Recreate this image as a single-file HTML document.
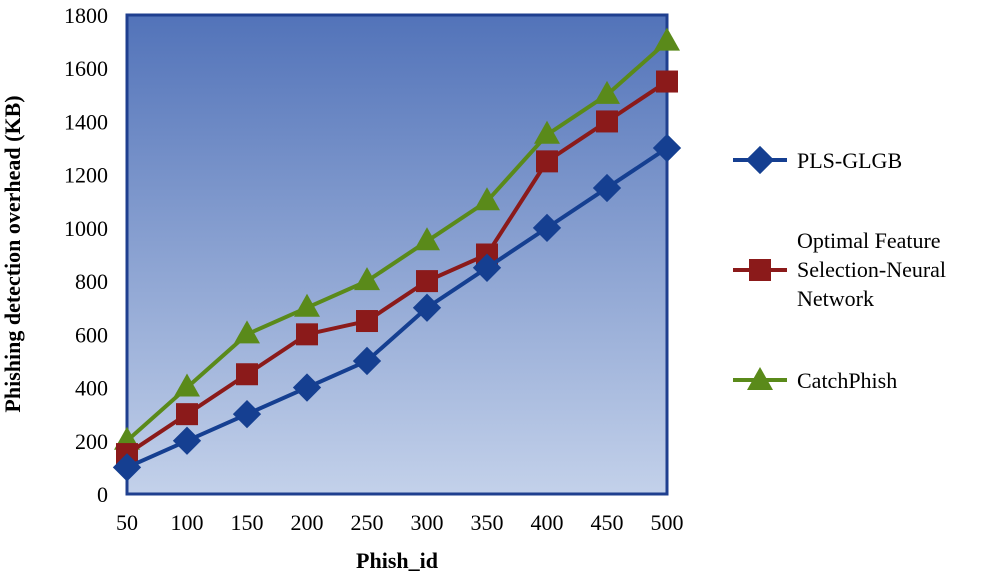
<!DOCTYPE html>
<html><head><meta charset="utf-8"><style>
body{margin:0;background:#fff;}
text{font-family:"Liberation Serif",serif;}
</style></head><body>
<svg id="chart" width="996" height="577" xmlns="http://www.w3.org/2000/svg">
<defs><linearGradient id="bg" x1="0" y1="0" x2="0" y2="1"><stop offset="0" stop-color="#5273b9"/><stop offset="1" stop-color="#c3d1ea"/></linearGradient></defs>
<rect x="127" y="15" width="540" height="479" fill="url(#bg)" stroke="#1f3f8f" stroke-width="3"/>
<g id="yticks"></g><g id="xticks"></g><g id="series"></g>
<text x="20" y="254" font-size="22" font-weight="bold" text-anchor="middle" transform="rotate(-90 20 254)">Phishing detection overhead (KB)</text>
<text x="397" y="568" font-size="22" font-weight="bold" text-anchor="middle">Phish_id</text>
<g>
<line x1="733" y1="160" x2="787" y2="160" stroke="#153f91" stroke-width="4"/>
<rect x="750" y="150" width="20" height="20" fill="#153f91" transform="rotate(45 760 160)"/>
<text x="797" y="168" font-size="22">PLS-GLGB</text>
<line x1="733" y1="270" x2="787" y2="270" stroke="#8b1a1a" stroke-width="4"/>
<rect x="749" y="259" width="22" height="22" fill="#8b1a1a"/>
<text x="797" y="248" font-size="22"><tspan x="797">Optimal Feature</tspan><tspan x="797" dy="29">Selection-Neural</tspan><tspan x="797" dy="29">Network</tspan></text>
<line x1="733" y1="380" x2="787" y2="380" stroke="#5a8a1a" stroke-width="4"/>
<polygon points="760,367 773,390 747,390" fill="#5a8a1a"/>
<text x="797" y="388" font-size="22">CatchPhish</text>
</g>
</svg>
<script>
const categories=[50,100,150,200,250,300,350,400,450,500];
const plsGlgb=[100,200,300,400,500,700,850,1000,1150,1300];
const ofsNn=[150,300,450,600,650,800,900,1250,1400,1550];
const catchPhish=[200,400,600,700,800,950,1100,1350,1500,1700];
const yTicks=[0,200,400,600,800,1000,1200,1400,1600,1800];
const NS="http://www.w3.org/2000/svg";
const X=i=>127+i*(540/(categories.length-1));
const Y=v=>494-v*(479/1800);
const yg=document.getElementById('yticks');
yTicks.forEach(t=>{const e=document.createElementNS(NS,'text');
e.setAttribute('x',108);e.setAttribute('y',Y(t)+8);e.setAttribute('font-size',22);e.setAttribute('text-anchor','end');e.textContent=t;


yg.appendChild(e);});
const xg=document.getElementById('xticks');
categories.forEach((c,i)=>{const e=document.createElementNS(NS,'text');
e.setAttribute('x',X(i));e.setAttribute('y',530);e.setAttribute('font-size',22);e.setAttribute('text-anchor','middle');e.textContent=c;


xg.appendChild(e);});
const sg=document.getElementById('series');
function draw(vals,color,shape,name){
const g=document.createElementNS(NS,'g');


const pl=document.createElementNS(NS,'polyline');
pl.setAttribute('points',vals.map((v,i)=>X(i)+','+Y(v)).join(' '));
pl.setAttribute('fill','none');pl.setAttribute('stroke',color);pl.setAttribute('stroke-width',4);


g.appendChild(pl);
vals.forEach((v,i)=>{const x=X(i),y=Y(v);let m;
if(shape==='d'){m=document.createElementNS(NS,'rect');m.setAttribute('x',x-10);m.setAttribute('y',y-10);m.setAttribute('width',20);m.setAttribute('height',20);m.setAttribute('transform','rotate(45 '+x+' '+y+')');}
else if(shape==='s'){m=document.createElementNS(NS,'rect');m.setAttribute('x',x-11);m.setAttribute('y',y-11);m.setAttribute('width',22);m.setAttribute('height',22);}
else{m=document.createElementNS(NS,'polygon');m.setAttribute('points',x+','+(y-14)+' '+(x+13)+','+(y+9)+' '+(x-13)+','+(y+9));}
m.setAttribute('fill',color);


g.appendChild(m);});
sg.appendChild(g);}
draw(catchPhish,'#5a8a1a','t','catchphish');
draw(ofsNn,'#8b1a1a','s','ofs-nn');
draw(plsGlgb,'#153f91','d','pls-glgb');
</script>
</body></html>
